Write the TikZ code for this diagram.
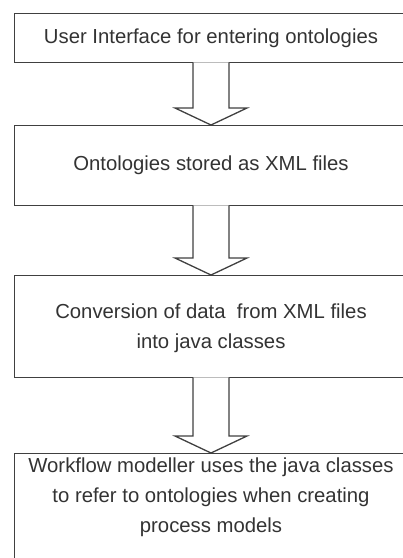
\documentclass[tikz,border=0pt]{standalone}
\usepackage{fontspec}
\setmainfont{Liberation Sans}
\usetikzlibrary{positioning}
\usetikzlibrary{calc}

% block arrow from the bottom of #1 down onto the top of #2, on the line through (axis)
\newcommand{\blockarrow}[2]{%
  \filldraw[flowline] ($(axis|-#1.south)+(-18,1)$) -- ($(axis|-#2.north)+(-18,17)$) -- ($(axis|-#2.north)+(-36,17)$)
    -- (axis|-#2.north) -- ($(axis|-#2.north)+(36,17)$) -- ($(axis|-#2.north)+(18,17)$) -- ($(axis|-#1.south)+(18,1)$);}

\begin{document}
\begin{tikzpicture}[x=1pt,y=1pt,
    flowline/.style={draw=black!75,line width=1.3pt,fill=white},
    flowtext/.style={text=black!80,font=\fontsize{20.3}{30}\selectfont,align=center}]
  \useasboundingbox (0,0) rectangle (403,-558);
  \clip (0,0) rectangle (403,-558);
  \coordinate (axis) at (211,0);
  % boxes run on past the right and lower cut of the picture
  \begin{scope}[every node/.style={rectangle,flowline,anchor=north west,minimum width=440pt,inner sep=0pt}]
    \node[minimum height=49pt] (ui) at (14,-13) {};
    \node[minimum height=80pt] (xml) at (14,-125) {};
    \node[minimum height=102pt] (conv) at (14,-275) {};
    \node[minimum height=140pt] (wf) at (14,-453) {};
  \end{scope}
  \begin{scope}[every node/.style={flowtext}]
    \node (uitext) at (axis|-ui) {User Interface for entering ontologies};
    \node (xmltext) at (axis|-xml) {Ontologies stored as XML files};
    \node (convtext) at ($(axis|-conv)+(0,-2)$) {Conversion of data~ from XML files\\into java classes};
    \node (wftext) at (211,-497) {Workflow modeller uses the java classes\\to refer to ontologies when creating\\process models};
  \end{scope}
  \blockarrow{ui}{xml}
  \blockarrow{xml}{conv}
  \blockarrow{conv}{wf}
\end{tikzpicture}
\end{document}
